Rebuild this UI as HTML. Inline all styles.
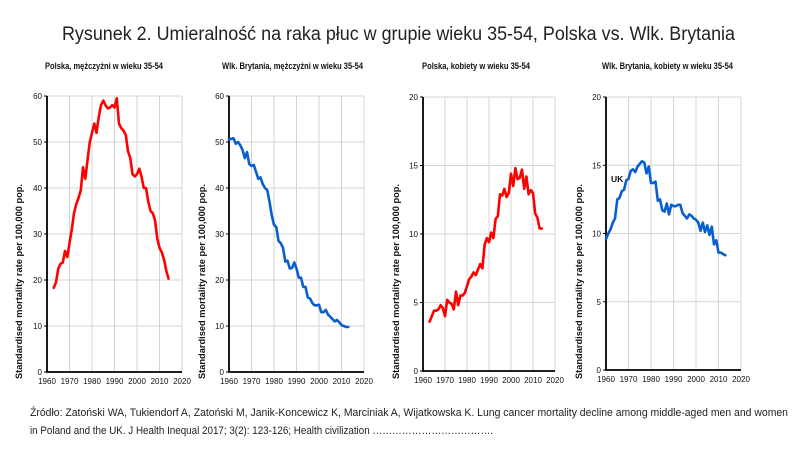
<!DOCTYPE html>
<html><head><meta charset="utf-8"><style>
html,body{margin:0;padding:0;background:#fff;}
svg{display:block;font-family:"Liberation Sans",sans-serif;}
</style></head><body>
<svg id="chart" width="800" height="450" viewBox="0 0 800 450">
<text x="62" y="40" textLength="673" lengthAdjust="spacingAndGlyphs" font-size="19" fill="#222">Rysunek 2. Umieralność na raka płuc w grupie wieku 35-54, Polska vs. Wlk. Brytania</text>
<text x="30" y="416" textLength="758" lengthAdjust="spacingAndGlyphs" font-size="11" fill="#222">Źródło: Zatoński WA, Tukiendorf A, Zatoński M, Janik-Koncewicz K, Marciniak A, Wijatkowska K. Lung cancer mortality decline among middle-aged men and women</text>
<text x="30" y="434" textLength="463" lengthAdjust="spacingAndGlyphs" font-size="11" fill="#222">in Poland and the UK. J Health Inequal 2017; 3(2): 123-126; Health civilization ……………………………….</text>
</svg>
<script>
const plMenStart = 1963;
const plMen = [18.3,19.5,22.5,23.5,23.8,26.3,25,28,31,34.5,36.5,37.8,39.5,44.5,42,46,50,52,54,52,55.5,58,59,58,57.3,57.5,58,57.5,59.5,54,53,52.5,51.5,48,46.5,43,42.5,43,44.2,42.5,40,40,37,35,34.5,33,29,27,26,24.5,22,20.3];
const ukMenStart = 1960;
const ukMen = [50.5,50.7,50.8,49.6,50,49.3,48.3,46.5,47.8,45.2,44.8,45,43.5,42,42.3,40.8,40,39.5,37,34,32,31.5,28.5,28,27,24,24.2,22.5,22.6,23.8,22.5,20.5,20.5,18.5,18.5,16.2,16,15,14.5,14.5,14.6,13,13,13.5,12.5,12,11.5,11,11.3,10.8,10.2,10.0,9.8,9.8];
const plWomenStart = 1963;
const plWomen = [3.6,4.0,4.4,4.4,4.5,4.8,4.6,4.0,5.2,5.0,4.9,4.5,5.8,4.8,5.5,5.5,5.7,6.2,6.7,6.9,7.2,7.0,7.4,7.8,7.5,9.2,9.7,9.4,10.1,9.7,11.1,11.3,12.9,12.8,13.3,12.7,13.0,14.4,13.5,14.8,14.0,14.1,14.7,13.3,14.2,12.9,13.2,13.0,11.5,11.2,10.4,10.4];
const ukWomenStart = 1960;
const ukWomen = [9.6,10.0,10.3,10.8,11.1,12.5,12.6,13.1,13.2,13.9,14.0,14.6,14.7,14.5,14.9,15.1,15.3,15.2,14.4,14.9,13.7,13.7,13.8,12.4,12.5,11.7,11.6,12.2,11.4,12.1,12.0,12.0,12.1,12.1,11.5,11.3,11.1,11.4,11.3,11.1,11.0,10.8,10.2,10.8,10.1,10.6,9.9,10.5,9.2,9.5,8.6,8.6,8.5,8.4];
const xTicks = [1960,1970,1980,1990,2000,2010,2020];
const yTicksMen = [0,10,20,30,40,50,60];
const yTicksWomen = [0,5,10,15,20];
const panelTitles = ["Polska, mężczyźni w wieku 35-54","Wlk. Brytania, mężczyźni w wieku 35-54","Polska, kobiety w wieku 35-54","Wlk. Brytania, kobiety w wieku 35-54"];

const NS="http://www.w3.org/2000/svg";
const svg=document.getElementById('chart');
function mk(tag,attrs,parent){const e=document.createElementNS(NS,tag);for(const k in attrs)e.setAttribute(k,attrs[k]);(parent||svg).appendChild(e);return e;}

const panels=[
 {x0:47,x1:182,top:96,bot:372,ymax:60,yt:yTicksMen,data:plMen,start:plMenStart,color:"#ff0000",title:panelTitles[0],tx:45,tw:118,lx:22,key:"pl-men"},
 {x0:229,x1:364,top:96,bot:372,ymax:60,yt:yTicksMen,data:ukMen,start:ukMenStart,color:"#0a5fd0",title:panelTitles[1],tx:222,tw:141,lx:205,key:"uk-men"},
 {x0:423,x1:555,top:97,bot:371,ymax:20,yt:yTicksWomen,data:plWomen,start:plWomenStart,color:"#ff0000",title:panelTitles[2],tx:422,tw:108,lx:399,key:"pl-women"},
 {x0:606,x1:741,top:97,bot:370,ymax:20,yt:yTicksWomen,data:ukWomen,start:ukWomenStart,color:"#0a5fd0",title:panelTitles[3],tx:602,tw:131,lx:582,key:"uk-women"}
];
panels.forEach(p=>{
 const g=mk('g',{});
 
 
 const sx=v=>p.x0+(v-1960)/60*(p.x1-p.x0);
 const sy=v=>p.bot-v/p.ymax*(p.bot-p.top);
 const t=mk('text',{x:p.tx,y:69,textLength:p.tw,lengthAdjust:'spacingAndGlyphs','font-size':'9','font-weight':'bold',fill:'#111'},g);
 t.textContent=p.title;
 
 
 xTicks.forEach(v=>{
  if(v>1960){const l=mk('line',{x1:sx(v),x2:sx(v),y1:p.top,y2:p.bot,stroke:'#d4d4d4','stroke-width':1},g);
  }
  const tl=mk('text',{x:sx(v),y:p.bot+12,'text-anchor':'middle','font-size':'8',fill:'#111'},g);
  tl.textContent=v;
  
  
 });
 p.yt.forEach(v=>{
  if(v>0){const l=mk('line',{x1:p.x0,x2:p.x1,y1:sy(v),y2:sy(v),stroke:'#d4d4d4','stroke-width':1},g);
  }
  mk('line',{x1:p.x0-3,x2:p.x0,y1:sy(v),y2:sy(v),stroke:'#000','stroke-width':1},g);
  const tl=mk('text',{x:p.x0-5,y:sy(v)+3,'text-anchor':'end','font-size':'8',fill:'#111'},g);
  tl.textContent=v;
  
  
 });
 const ax=mk('path',{d:`M${p.x0},${p.top} V${p.bot} H${p.x1}`,fill:'none',stroke:'#000','stroke-width':1.8},g);
 
 
 const yl=mk('text',{x:-97,y:0,transform:`translate(${p.lx},282) rotate(-90)`,textLength:195,lengthAdjust:'spacingAndGlyphs','font-size':'9','font-weight':'bold',fill:'#111'},g);
 yl.textContent='Standardised mortality rate per 100,000 pop.';
 
 
 const pts=p.data.map((v,i)=>sx(p.start+i).toFixed(1)+','+sy(v).toFixed(1)).join(' ');
 const ln=mk('polyline',{points:pts,fill:'none',stroke:p.color,'stroke-width':2.6,'stroke-linejoin':'round','stroke-linecap':'round'},g);
 
 
});
const uk=mk('text',{x:611,y:182,'font-size':'8.5','font-weight':'bold',fill:'#111'});
uk.textContent='UK';


</script>
</body></html>
